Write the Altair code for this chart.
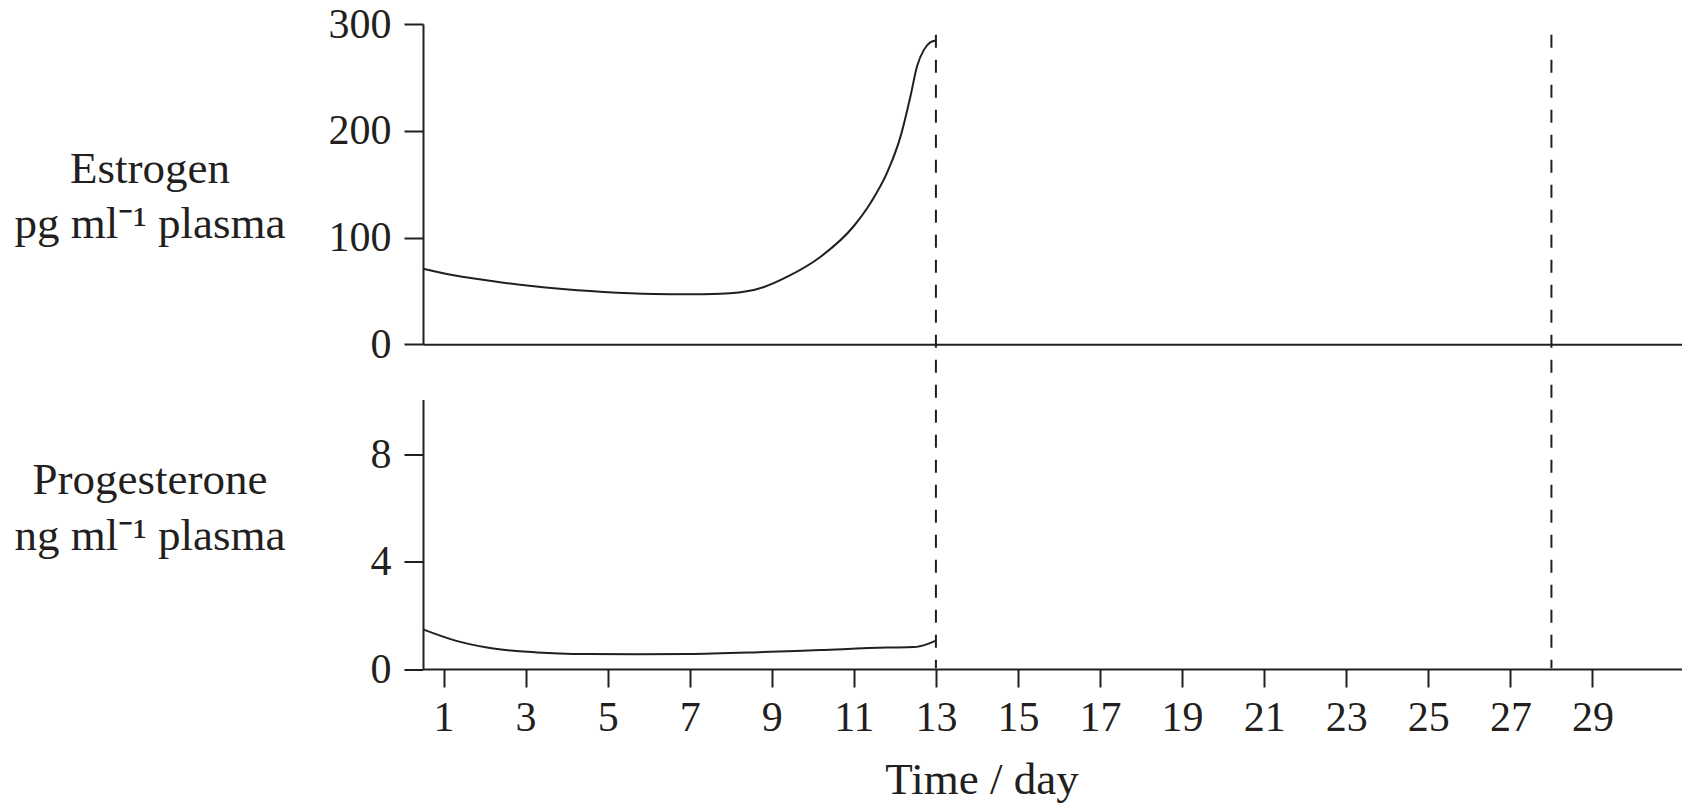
import altair as alt
import pandas as pd

# ---- data ----
days_e = [0.5, 1.25, 2.47, 3.69, 4.9, 6.12, 6.94, 7.75, 8.56, 8.81, 9.38, 10.19,
          11.0, 11.41, 11.81, 12.14, 12.38, 12.54, 12.71, 12.87, 13.0]
estrogen = [70.8, 64.6, 57.7, 52.4, 49.0, 47.1, 46.8, 47.4, 50.9, 53.7, 63.3, 82.0,
            110.8, 132.6, 160.7, 195.0, 232.4, 260.5, 276.0, 283.0, 284.6]
days_p = [0.5, 1.25, 2.06, 3.28, 4.5, 5.72, 6.94, 8.56, 10.19, 11.81, 12.46, 12.79, 13.0]
progesterone = [1.48, 1.08, 0.80, 0.62, 0.56, 0.55, 0.56, 0.62, 0.71, 0.80, 0.82, 0.93, 1.06]
x_ticks = list(range(1, 30, 2))
estrogen_ticks = [0, 100, 200, 300]
progesterone_ticks = [0, 4, 8]
marker_days = [13, 28]
marker_top = [290, 290]

ink = "#231f20"
FONT = "Liberation Serif"
W = 1258.5
H1 = 320.3
H2 = 269.5
GAP = 54.5
X_DOMAIN = [0.5, 31.17]

df_e = pd.DataFrame({"day": days_e, "value": estrogen})
df_p = pd.DataFrame({"day": days_p, "value": progesterone})
df_r = pd.DataFrame({"day": marker_days, "value": marker_top})

xscale = alt.Scale(domain=X_DOMAIN, nice=False, zero=False)

common_axis = dict(grid=False, domainColor=ink, domainWidth=2, tickColor=ink, tickWidth=2,
                   labelFont=FONT, labelFontSize=42, labelColor=ink,
                   titleFont=FONT, titleFontSize=45, titleFontWeight="normal", titleColor=ink)

x_up = alt.X("day:Q", scale=xscale,
             axis=alt.Axis(title=None, labels=False, ticks=False, grid=False,
                           domainColor=ink, domainWidth=2))
y_up = alt.Y("value:Q", scale=alt.Scale(domain=[0, 300], nice=False),
             axis=alt.Axis(values=estrogen_ticks, title=["Estrogen", "pg ml\u207b\u00b9 plasma"],
                           titleAngle=0, titleX=-273.5, titleY=158.6, titleAlign="center",
                           titleBaseline="alphabetic", titleLineHeight=55,
                           labelPadding=13, tickSize=19, **common_axis))

line_e = alt.Chart(df_e).mark_line(color=ink, strokeWidth=2, interpolate="monotone").encode(
    x=x_up, y=y_up)
rule_e = alt.Chart(df_r).mark_rule(color=ink, strokeWidth=2, strokeDash=[13, 12]).encode(
    x=alt.X("day:Q", scale=xscale), y=alt.Y("value:Q"), y2=alt.value(H1 + GAP + H2))
upper = alt.layer(line_e, rule_e).properties(width=W, height=H1)

x_lo = alt.X("day:Q", scale=xscale,
             axis=alt.Axis(values=x_ticks, title="Time / day", titleX=558.5, titleY=124.3,
                           titleAlign="center", titleBaseline="alphabetic",
                           labelPadding=10, tickSize=18, labelFlush=False, labelOverlap=False,
                           **common_axis))
y_lo = alt.Y("value:Q", scale=alt.Scale(domain=[0, 10.07], nice=False),
             axis=alt.Axis(values=progesterone_ticks,
                           title=["Progesterone", "ng ml\u207b\u00b9 plasma"],
                           titleAngle=0, titleX=-273.5, titleY=93.8, titleAlign="center",
                           titleBaseline="alphabetic", titleLineHeight=56,
                           labelPadding=13, tickSize=19, **common_axis))
lower = alt.Chart(df_p).mark_line(color=ink, strokeWidth=2, interpolate="monotone").encode(
    x=x_lo, y=y_lo).properties(width=W, height=H2)

chart = alt.vconcat(upper, lower, spacing=GAP, bounds="flush").properties(
    padding={"left": 14, "top": 3, "right": 5, "bottom": 5},
    background="white",
).configure_view(strokeWidth=0)

chart.save("out.html", embed_options={"renderer": "svg", "actions": False})
